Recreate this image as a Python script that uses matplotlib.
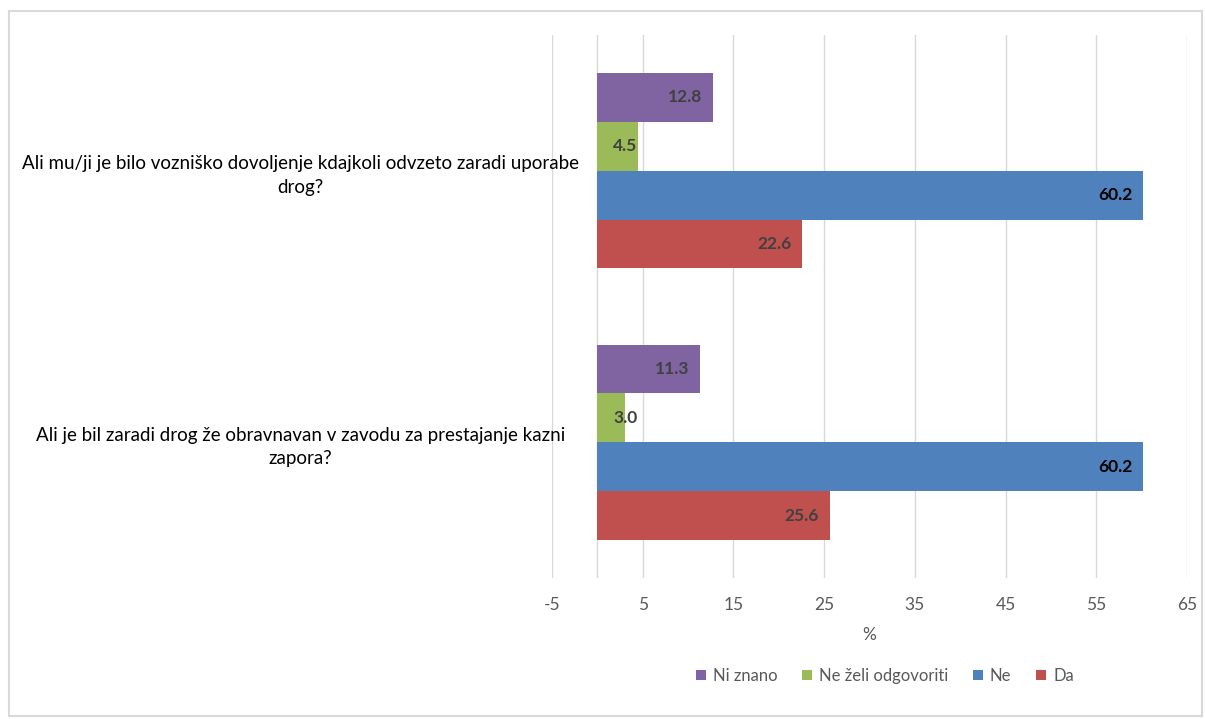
import matplotlib.pyplot as plt
from matplotlib.patches import Rectangle
import numpy as np

plt.rcParams['font.family'] = ['Lato', 'DejaVu Sans']
plt.rcParams['axes.unicode_minus'] = False

# categories from bottom to top (as the value axis draws them)
questions = [
    "Ali je bil zaradi drog že obravnavan v zavodu za prestajanje kazni\nzapora?",
    "Ali mu/ji je bilo vozniško dovoljenje kdajkoli odvzeto zaradi uporabe\ndrog?",
]
series = ["Da", "Ne", "Ne želi odgovoriti", "Ni znano"]
da = [25.6, 22.6]
ne = [60.2, 60.2]
ne_zeli = [3.0, 4.5]
ni_znano = [11.3, 12.8]
values = [da, ne, ne_zeli, ni_znano]
colors = ["#C0504D", "#4F81BD", "#9BBB59", "#8064A2"]
label_colors = ["#404040", "#000000", "#404040", "#404040"]

fig = plt.figure(figsize=(12.05, 7.19), dpi=100)
fig.patches.append(Rectangle((9 / 1205, 3 / 719), 1193 / 1205, 705 / 719,
                             transform=fig.transFigure, fill=False,
                             edgecolor="#D9D9D9", linewidth=1.5))
ax = fig.add_axes([552 / 1205, 1 - 578 / 719, 635 / 1205, 543 / 719])

y = np.arange(len(questions))
h = 0.18
handles = []
for i, (name, vals, c, lc) in enumerate(zip(series, values, colors, label_colors)):
    pos = y - 1.5 * h + i * h
    bars = ax.barh(pos, vals, height=h, color=c, label=name, zorder=3)
    handles.append(bars)
    for p, v in zip(pos, vals):
        ax.text(max(v - 1.2, 4.4), p, f"{v:.1f}", ha="right", va="center",
                fontsize=12.5, fontweight="bold", color=lc, zorder=4)

ax.set_xlim(-5, 65)
ax.set_ylim(-0.5, 1.5)
ax.set_xticks(np.arange(-5, 66, 10))
ax.set_yticks(y)
ax.set_yticklabels(questions, ha="center", fontsize=13.5, color="#000000",
                   linespacing=1.45)
ax.tick_params(axis="y", length=0, pad=181)
ax.tick_params(axis="x", length=0, labelsize=12.5, labelcolor="#595959", pad=14)
ax.grid(axis="x", color="#D9D9D9", linewidth=1, zorder=0)
ax.axvline(0, color="#D9D9D9", linewidth=1, zorder=1)
for s in ax.spines.values():
    s.set_visible(False)
ax.set_xlabel("%", fontsize=12.5, color="#595959", labelpad=10)

leg = fig.legend(handles[::-1], series[::-1], loc="center", ncol=4,
                 bbox_to_anchor=(885 / 1205, 1 - 676 / 719), frameon=False,
                 fontsize=12, handlelength=0.6, handleheight=0.6,
                 handletextpad=0.4, columnspacing=1.5)
for t in leg.get_texts():
    t.set_color("#595959")

fig.savefig("out.png", dpi=100)
